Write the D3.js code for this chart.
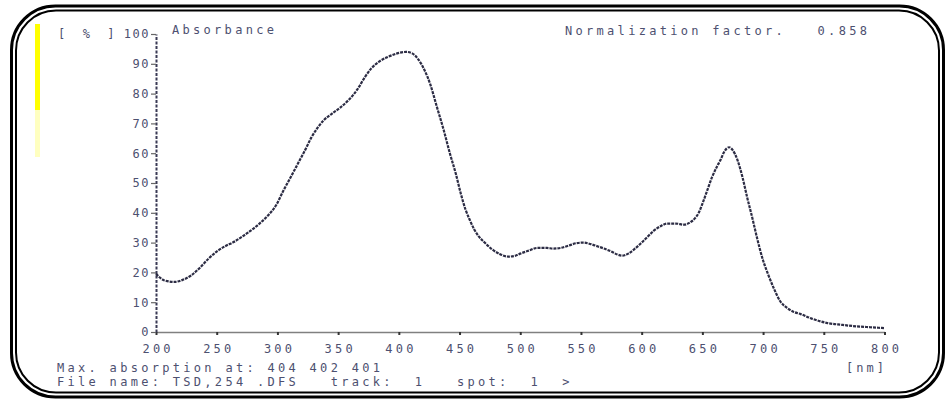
<!DOCTYPE html>
<html lang="en">
<head>
<meta charset="UTF-8">
<title>Absorbance spectrum</title>
<script src="https://cdn.jsdelivr.net/npm/d3@7"></script>
<style>
  body { margin: 0; background: #fff; }
  text { font-family: "DejaVu Sans Mono", monospace; }
</style>
</head>
<body>
<div id="chart"></div>
<script>
// wavelength in nm, absorbance in %
const wavelength = [200, 207, 215, 222, 229, 236, 243, 250, 257, 264, 271, 278, 285, 292, 299,
  305, 311, 317, 323, 328, 333, 338, 345, 352, 359, 366, 372, 377, 384, 391, 398, 406, 411,
  416, 421, 426, 431, 437, 442, 447, 451, 455, 458, 462, 466, 470, 476, 483, 490, 496, 500,
  507, 514, 522, 527, 533, 540, 546, 552, 558, 564, 569, 575, 580, 584, 589, 594, 599, 605,
  610, 616, 621, 628, 635, 640, 644, 647, 650, 654, 658, 662, 665, 668, 672, 675, 679, 683,
  687, 691, 695, 700, 704, 709, 714, 720, 725, 731, 740, 753, 765, 774, 788, 800];
const absorbance = [19.5, 17.3, 16.8, 17.5, 19, 21.5, 24.5, 27, 28.8, 30.2, 32, 34, 36.3, 39, 42.6,
  47.5, 52, 56.6, 61.2, 65.3, 68.5, 71, 73.3, 75.4, 78, 81.5, 85.5, 88.3, 90.8, 92.3, 93.4, 94, 93.5,
  91.5, 88, 83, 76, 67.7, 60, 53, 46.5, 41, 38, 34.5, 32, 30.3, 28, 26.2, 25.3, 25.6, 26.3,
  27.3, 28.2, 28.2, 28, 28.2, 29, 29.8, 30, 29.5, 28.7, 28, 27, 26, 25.6, 26.3, 27.8, 29.6, 32,
  34, 35.6, 36.4, 36.4, 36, 36.8, 38.2, 40, 43, 47.5, 52, 55.5, 57.8, 60.5, 62, 61, 57.6, 52,
  45, 38.5, 31.6, 24, 19.5, 14.5, 10.4, 8, 6.8, 6, 4.5, 3, 2.4, 2, 1.6, 1.3];
const xTicks = [200, 250, 300, 350, 400, 450, 500, 550, 600, 650, 700, 750, 800];
const yTicks = [0, 10, 20, 30, 40, 50, 60, 70, 80, 90, 100];

const W = 947, H = 402;
const textColor = "#4d5070";

const svg = d3.select("#chart").append("svg")
    .attr("width", W)
    .attr("height", H);

// double rounded frame
svg.append("rect")
    .attr("x", 11.5).attr("y", 6)
    .attr("width", 932).attr("height", 391)
    .attr("rx", 44).attr("ry", 44)
    .attr("fill", "none").attr("stroke", "#000").attr("stroke-width", 3);
svg.append("rect")
    .attr("x", 16).attr("y", 10.5)
    .attr("width", 923).attr("height", 382)
    .attr("rx", 40).attr("ry", 40)
    .attr("fill", "none").attr("stroke", "#000").attr("stroke-width", 2);

// yellow marker on the left
svg.append("rect").attr("x", 35).attr("y", 24).attr("width", 5).attr("height", 86).attr("fill", "#ffff00");
svg.append("rect").attr("x", 35).attr("y", 110).attr("width", 5).attr("height", 47).attr("fill", "#ffffc0");

const x = d3.scaleLinear().domain([200, 800]).range([156, 884.5]);
const y = d3.scaleLinear().domain([0, 100]).range([332, 34]);

// x axis
const xAxis = svg.append("g")
    .attr("transform", "translate(0,332)")
    .call(d3.axisBottom(x).tickValues(xTicks).tickSize(3).tickSizeOuter(0));
xAxis.select(".domain").attr("stroke", "#808080").attr("stroke-width", 1.6);
xAxis.selectAll(".tick line").attr("stroke", "#333").attr("stroke-width", 2);
xAxis.selectAll(".tick text")
    .attr("y", 12)
    .attr("dx", "1.6px")
    .attr("fill", textColor)
    .style("font-size", "12px")
    .style("letter-spacing", "3.2px")
    .style("font-family", "'DejaVu Sans Mono', monospace");

// y axis
const yAxis = svg.append("g")
    .attr("transform", "translate(156,0)")
    .call(d3.axisLeft(y).tickValues(yTicks).tickSize(5).tickSizeOuter(0));
yAxis.select(".domain").attr("stroke", "#3a3a55").attr("stroke-width", 2).attr("stroke-dasharray", "3,1.5");
yAxis.selectAll(".tick line").attr("stroke", "#666").attr("stroke-width", 1.2);
yAxis.selectAll(".tick text")
    .attr("x", -6)
    .attr("fill", textColor)
    .style("font-size", "12px")
    .style("letter-spacing", "1.5px")
    .style("font-family", "'DejaVu Sans Mono', monospace");

// the spectrum
const line = d3.line()
    .x((d, i) => x(wavelength[i]))
    .y(d => y(d))
    .curve(d3.curveMonotoneX);

svg.append("path")
    .datum(absorbance)
    .attr("fill", "none")
    .attr("stroke", "#2c2c44")
    .attr("stroke-width", 2.2)
    .attr("stroke-dasharray", "3,1")
    .attr("d", line);

// labels
function label(tx, ty, s, spacing) {
  svg.append("text")
      .attr("x", tx).attr("y", ty)
      .attr("fill", textColor)
      .style("font-size", "12px")
      .style("letter-spacing", spacing + "px")
      .attr("xml:space", "preserve")
      .style("white-space", "pre")
      .text(s);
}
label(58, 38, "[  %  ]", 1);
label(172, 34, "Absorbance", 3.3);
label(565, 35, "Normalization factor.   0.858", 3.3);
label(57, 372, "Max. absorption at: 404 402 401", 3.3);
label(57, 386, "File name: TSD,254 .DFS   track:  1   spot:  1  >", 3.3);
label(846, 372, "[nm]", 3);
</script>
</body>
</html>
